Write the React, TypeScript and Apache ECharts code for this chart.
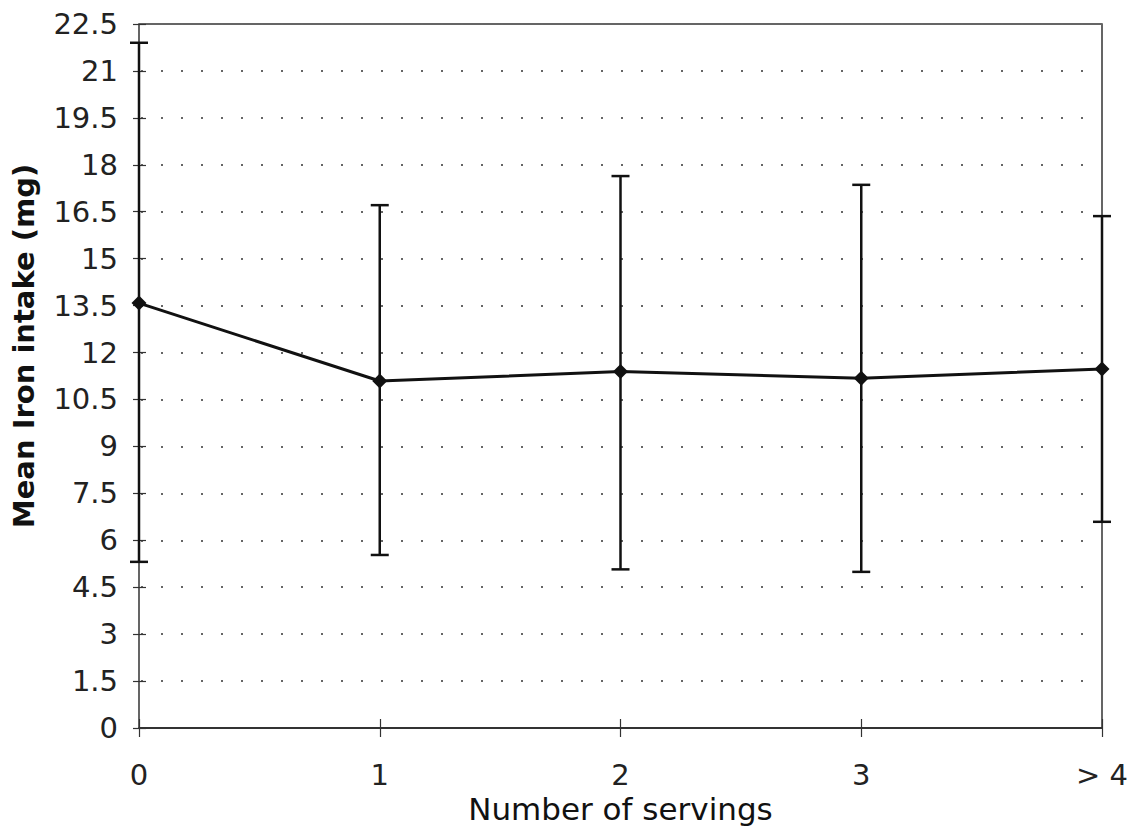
import React, { useEffect, useRef } from "react";
import * as echarts from "echarts";

const categories = ["0", "1", "2", "3", "> 4"];
const meanIron = [13.58, 11.09, 11.39, 11.18, 11.47];
const upperBound = [21.9, 16.71, 17.64, 17.36, 16.36];
const lowerBound = [5.31, 5.53, 5.07, 4.99, 6.59];
const yMin = 0;
const yMax = 22.5;
const yStep = 1.5;
const yTitle = "Mean Iron intake (mg)";
const xTitle = "Number of servings";

const FONT = "'DejaVu Sans', sans-serif";

export default function App() {
  const ref = useRef<HTMLDivElement>(null);

  useEffect(() => {
    if (!ref.current) return;
    const chart = echarts.init(ref.current, null, { renderer: "svg" });
    const errData = categories.map((_, i) => [i, lowerBound[i], upperBound[i]]);

    const option: any = {
      animation: false,
      backgroundColor: "#ffffff",
      grid: {
        left: 139,
        right: 30,
        top: 24,
        bottom: 109,
        show: true,
        borderColor: "#333",
        borderWidth: 1.5,
      },
      xAxis: [
        {
          type: "category",
          data: categories,
          boundaryGap: false,
          axisLine: { show: true, lineStyle: { color: "#222", width: 1.5 } },
          axisTick: { show: true, length: 9, lineStyle: { color: "#333", width: 1.2 } },
          axisLabel: { margin: 32, fontSize: 29, fontFamily: FONT, color: "#222" },
          splitLine: { show: false },
          name: xTitle,
          nameLocation: "middle",
          nameGap: 60,
          nameTextStyle: { fontSize: 31, fontFamily: FONT, color: "#111" },
        },
        {
          type: "category",
          data: categories,
          boundaryGap: false,
          position: "bottom",
          axisLine: { show: false },
          axisTick: { show: true, inside: true, length: 9, lineStyle: { color: "#333", width: 1.2 } },
          axisLabel: { show: false },
          splitLine: { show: false },
        },
      ],
      yAxis: [
        {
          type: "value",
          min: yMin,
          max: yMax,
          interval: yStep,
          axisLine: { show: true, lineStyle: { color: "#666", width: 1 } },
          axisTick: { show: true, length: 6, lineStyle: { color: "#333", width: 1.2 } },
          axisLabel: { margin: 21, fontSize: 29, fontFamily: FONT, color: "#222" },
          splitLine: {
            show: true,
            lineStyle: { color: "#666", width: 2, type: [2, 18], dashOffset: -22 },
          },
        },
        {
          type: "value",
          min: yMin,
          max: yMax,
          interval: yStep,
          position: "left",
          axisLine: { show: false },
          axisTick: { show: true, inside: true, length: 7, lineStyle: { color: "#333", width: 1.2 } },
          axisLabel: { show: false },
          splitLine: { show: false },
        },
      ],
      graphic: [
        {
          type: "text",
          x: 24,
          y: 346,
          rotation: Math.PI / 2,
          style: {
            text: yTitle,
            fontSize: 29,
            fontWeight: "bold",
            fontFamily: FONT,
            fill: "#111",
            align: "center",
            verticalAlign: "middle",
          },
        },
      ],
      series: [
        {
          type: "custom",
          xAxisIndex: 0,
          yAxisIndex: 0,
          data: errData,
          z: 3,
          renderItem: (params: any, api: any) => {
            const idx = api.value(0);
            const lo = api.coord([idx, api.value(1)]);
            const hi = api.coord([idx, api.value(2)]);
            const half = 9;
            const style = { stroke: "#111", lineWidth: 2.5 };
            return {
              type: "group",
              children: [
                { type: "line", shape: { x1: hi[0], y1: hi[1], x2: lo[0], y2: lo[1] }, style },
                { type: "line", shape: { x1: hi[0] - half, y1: hi[1], x2: hi[0] + half, y2: hi[1] }, style },
                { type: "line", shape: { x1: lo[0] - half, y1: lo[1], x2: lo[0] + half, y2: lo[1] }, style },
              ],
            };
          },
        },
        {
          type: "line",
          xAxisIndex: 0,
          yAxisIndex: 0,
          data: meanIron,
          z: 4,
          symbol: "diamond",
          symbolSize: 15,
          lineStyle: { color: "#111", width: 3 },
          itemStyle: { color: "#111" },
        },
      ],
    };

    chart.setOption(option);
    return () => chart.dispose();
  }, []);

  return (
    <div
      ref={ref}
      style={{ position: "fixed", left: 0, top: 0, width: 1132, height: 837, background: "#fff" }}
    />
  );
}
